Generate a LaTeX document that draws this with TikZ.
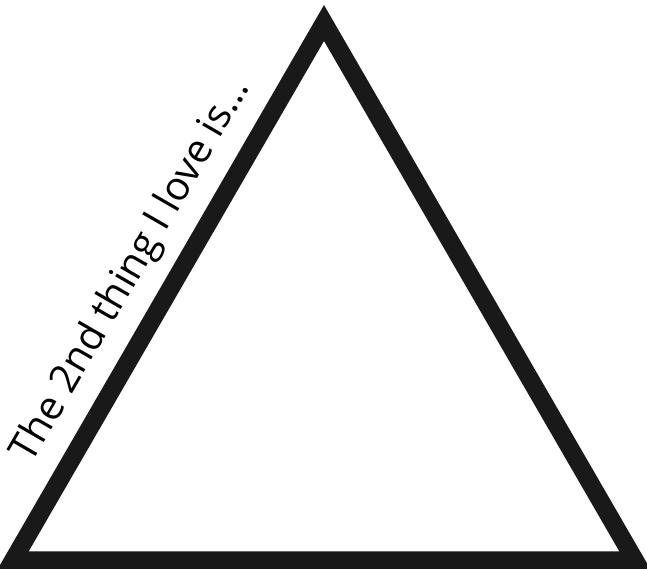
\documentclass[tikz,border=0pt]{standalone}
\usepackage{fontspec}
\setmainfont{Open Sans}
\usetikzlibrary{calc}

\begin{document}
\begin{tikzpicture}[
    x=1pt, y=1pt,
    outline/.style={draw=black!90, line width=18pt, line join=miter},
    sidelabel/.style={font=\fontsize{40}{46}\selectfont, text=black, inner sep=0pt, anchor=base, rotate=60}
]
\useasboundingbox (0,0) rectangle (647,569);

% Triangle corners
\coordinate (apex) at (324,546);
\coordinate (left) at (13,8.5);
\coordinate (right) at (635,8.5);

% Triangle
\draw [outline] (apex) -- (left) -- (right) -- cycle;

% Label along the left side
\coordinate (mid) at ($(left)!0.5!(apex)$);
\node (label) [sidelabel] at ($(mid)!32pt!90:(apex)$) {The 2nd thing I love is…};

\end{tikzpicture}
\end{document}
